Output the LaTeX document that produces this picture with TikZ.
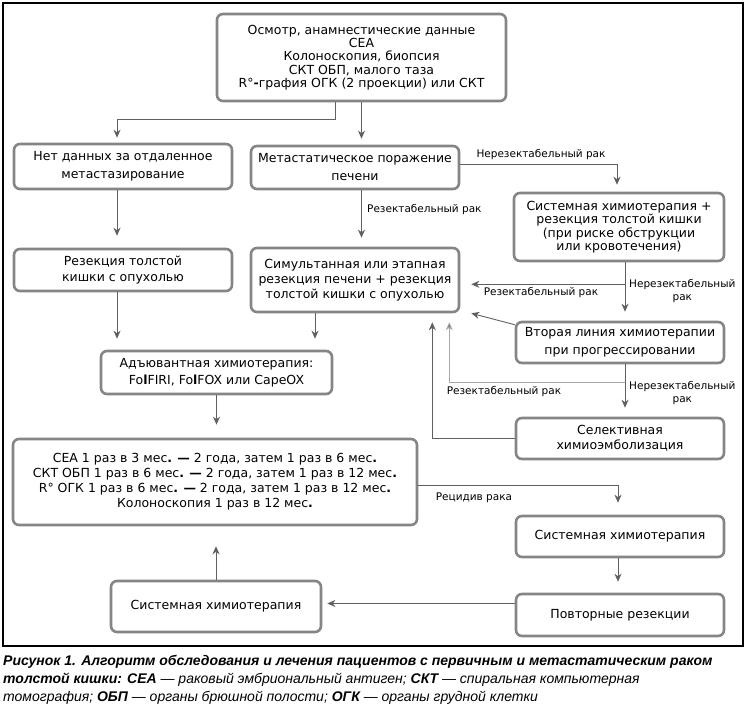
\documentclass[tikz,border=0pt]{standalone}
\usepackage{fontspec}
\setmainfont{DejaVu Sans}
\newfontfamily\capfont{Liberation Sans}
\usetikzlibrary{arrows.meta,calc}
\definecolor{boxgray}{HTML}{858585}
\definecolor{linegray}{HTML}{606060}
\definecolor{lightline}{HTML}{A8A8A8}
\begin{document}
\begin{tikzpicture}[x=1pt,y=-1pt,
  box/.style={draw=boxgray, line width=2.6pt, rounded corners=6pt, fill=white, align=center, inner sep=0pt},
  fs/.style={font=\fontsize{12.5}{#1}\selectfont},
  arr/.style={draw=linegray, line width=0.9pt, -{Stealth[length=8pt,width=7pt,inset=2.5pt,fill=linegray]}},
  lbl/.style={font=\fontsize{10.5}{12.5}\selectfont, align=center, inner sep=0pt}
]
\useasboundingbox (0,0) rectangle (747,711);
\draw[line width=1.2pt] (3,3) rectangle (743,646);

\node[box, fs=13.3, minimum width=289pt, minimum height=87pt] (top) at (361.5,57.5)
  {Осмотр, анамнестические данные\\CEA\\Колоноскопия, биопсия\\СКТ ОБП, малого таза\\R°\textbf{-}графия ОГК (2 проекции) или СКТ};
\node[box, fs=18, minimum width=218pt, minimum height=45pt] (net) at (123,166.5)
  {Нет данных за отдаленное\\метастазирование};
\node[box, fs=16, minimum width=218pt, minimum height=42pt] (rez) at (123,270)
  {Резекция толстой\\кишки с опухолью};
\node[box, fs=18, minimum width=208pt, minimum height=43pt] (met) at (355,167.5)
  {Метастатическое поражение\\печени};
\node[box, fs=15, minimum width=208pt, minimum height=64pt] (sim) at (355,280)
  {Симультанная или этапная\\резекция печени + резекция\\толстой кишки с опухолью};
\node[box, fs=13.5, minimum width=210pt, minimum height=68pt] (sys1) at (619,227)
  {Системная химиотерапия +\\резекция толстой кишки\\(при риске обструкции\\или кровотечения)};
\node[box, fs=18, minimum width=208pt, minimum height=41pt] (vtor) at (620,342.5)
  {Вторая линия химиотерапии\\при прогрессировании};
\node[box, fs=15, minimum width=208pt, minimum height=41pt] (sel) at (620,438.5)
  {Селективная\\химиоэмболизация};
\node[box, fs=16.7, minimum width=231pt, minimum height=43pt] (adj) at (216.5,372.5)
  {Адъювантная химиотерапия:\\Fo\textbf{l}FIRI, Fo\textbf{l}FOX или CapeOX};
\node[box, fs=15, minimum width=404pt, minimum height=86pt] (cea) at (215,482)
  {CEA 1 раз в 3 мес\textbf{.} \textbf{—} 2 года, затем 1 раз в 6 мес\textbf{.}\\
   СКТ ОБП 1 раз в 6 мес\textbf{.} \textbf{—} 2 года, затем 1 раз в 12 мес\textbf{.}\\
   R° ОГК 1 раз в 6 мес\textbf{.} \textbf{—} 2 года, затем 1 раз в 12 мес\textbf{.}\\
   Колоноскопия 1 раз в 12 мес\textbf{.}};
\node[box, fs=15, minimum width=208pt, minimum height=41pt] (sys2) at (620,536.5)
  {Системная химиотерапия};
\node[box, fs=15, minimum width=208pt, minimum height=42pt] (pov) at (620,615)
  {Повторные резекции};
\node[box, fs=15, minimum width=210pt, minimum height=51pt] (sys3) at (216,606.5)
  {Системная химиотерапия};

% connectors
\draw[arr, shorten >=5pt] ([xshift=-26.5pt]top.south) |- ([xshift=-6pt,yshift=23pt]net.north) -- ([xshift=-6pt]net.north);
\draw[arr, shorten >=6pt] (top.south) -- (top.south |- met.north);
\draw[arr, shorten >=12pt] ([xshift=-6pt]net.south) -- ([xshift=-6pt]rez.north);
\draw[arr, shorten >=9pt] (met.south -| top.south) -- (sim.north -| top.south);
\node[lbl, anchor=west] (l1) at (367,210) {Резектабельный рак};
\draw[arr, shorten >=7pt] ([yshift=3pt]met.east) -| ([xshift=-2pt]sys1.north);
\node[lbl] (l2) at (541,155) {Нерезектабельный рак};

\draw[arr, shorten >=9pt] ([xshift=6pt]sys1.south) -- ([xshift=5pt]vtor.north);
\coordinate (b1) at ($([xshift=6pt]sys1.south)+(0,22)$);
\draw[arr, shorten >=11pt] (b1) -- (b1 -| sim.east);
\node[lbl] (l3) at (541,293) {Резектабельный рак};
\node[lbl, anchor=west] (l4) at (629,291) {Нерезектабельный\\рак};

\draw[arr] ($(vtor.north west)+(0,4)$) -- ($(sim.south east)+(11,0)$);

\draw[arr, shorten >=9pt] ([xshift=5pt]vtor.south) -- ([xshift=5pt]sel.north);
\coordinate (b2) at ($([xshift=5pt]vtor.south)+(0,18)$);
\draw[arr, draw=lightline] (b2) -| ([xshift=-11pt,yshift=-9pt]sim.south east);
\node[lbl] (l5) at (504,392) {Резектабельный рак};
\node[lbl, anchor=west] (l6) at (629,393) {Нерезектабельный\\рак};
\draw[arr] (sel.west) -| ([xshift=-28pt,yshift=-9pt]sim.south east);

\draw[arr, shorten >=11pt] ([xshift=-6pt]rez.south) -- ([xshift=-6pt]rez.south |- adj.north);
\draw[arr, shorten >=11pt] ([xshift=-40pt]sim.south) -- ([xshift=-40pt]sim.south |- adj.north);
\draw[arr, shorten >=13pt] (adj.south) -- (adj.south |- cea.north);

\draw[arr, shorten >=12pt] ([yshift=-3pt]cea.east) -| ([xshift=-2pt]sys2.north);
\node[lbl] (l7) at (474,498) {Рецидив рака};
\draw[arr, shorten >=11pt] ([xshift=-2pt]sys2.south) -- ([xshift=-2pt]pov.north);
\coordinate (p1) at ([yshift=3pt]sys3.east);
\draw[arr, shorten >=5pt] (p1 -| pov.west) -- (p1);
\draw[arr, shorten >=20pt] (sys3.north) -- (sys3.north |- cea.south);

% caption
\node[anchor=north west, inner sep=0pt, align=left, font=\capfont\fontsize{14}{18}\selectfont\itshape] (cap) at (3,655)
 {\bfseries Рисунок 1. Алгоритм обследования и лечения пациентов с первичным и метастатическим раком\\
  \bfseries толстой кишки: СЕА \mdseries — раковый эмбриональный антиген; \bfseries СКТ \mdseries — спиральная компьютерная\\
  \mdseries томография; \bfseries ОБП \mdseries — органы брюшной полости; \bfseries ОГК \mdseries — органы грудной клетки};
\end{tikzpicture}
\end{document}
